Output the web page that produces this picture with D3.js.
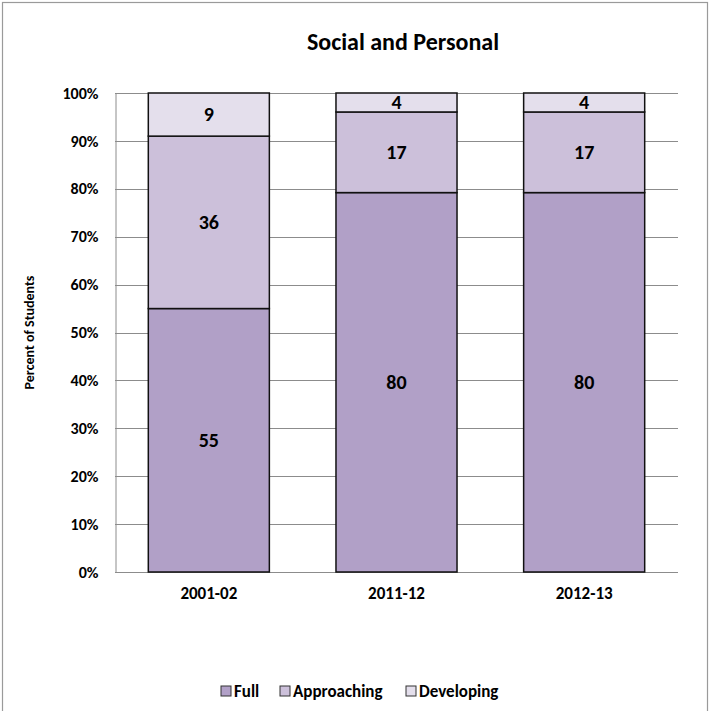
<!DOCTYPE html>
<html>
<head>
<meta charset="utf-8">
<script src="https://cdn.jsdelivr.net/npm/d3@7"></script>
<style>
  body { margin: 0; background: #fff; }
  svg text { font-family: Carlito, Lato, "Open Sans", sans-serif; font-weight: bold; }
</style>
</head>
<body>
<div id="chart"></div>
<script>
"use strict";

// chart data
const years = ["2001-02", "2011-12", "2012-13"];
const levels = ["Full", "Approaching", "Developing"];
const full = [55, 80, 80];
const approaching = [36, 17, 17];
const developing = [9, 4, 4];
const yTicks = [0, 0.1, 0.2, 0.3, 0.4, 0.5, 0.6, 0.7, 0.8, 0.9, 1.0];
const levelColors = ["#b1a0c7", "#ccc0da", "#e4dfec"];

const width = 709, height = 711;
const margin = { top: 93, right: 31, bottom: 139, left: 115 };

const svg = d3.select("#chart").append("svg")
    .attr("width", width)
    .attr("height", height);

// outer frame of the chart area (bottom edge falls off the page)
svg.append("rect")
    .attr("x", 2.5).attr("y", 2.5)
    .attr("width", 705).attr("height", 720)
    .attr("fill", "none")
    .attr("stroke", "#9a9a9a")
    .attr("stroke-width", 1.2);

// build rows for the stack
const rows = years.map((y, i) => ({
    year: y, Full: full[i], Approaching: approaching[i], Developing: developing[i]
}));

const series = d3.stack()
    .keys(levels)
    .offset(d3.stackOffsetExpand)(rows);

const x = d3.scaleBand()
    .domain(years)
    .range([margin.left, width - margin.right])
    .paddingInner(0.355)
    .paddingOuter(0.1775);

const y = d3.scaleLinear()
    .domain([0, 1])
    .range([height - margin.bottom, margin.top]);

// gridlines
svg.append("g")
    .selectAll("line")
    .data(yTicks)
    .join("line")
    .attr("x1", margin.left)
    .attr("x2", width - margin.right)
    .attr("y1", d => Math.round(y(d)) + 0.5)
    .attr("y2", d => Math.round(y(d)) + 0.5)
    .attr("stroke", "#8c8c8c")
    .attr("stroke-width", 1);

// y axis
const yAxis = svg.append("g")
    .attr("transform", `translate(${margin.left + 0.5},0)`)
    .call(d3.axisLeft(y).tickValues(yTicks).tickFormat(d3.format(".0%")).tickSize(0).tickPadding(17));
yAxis.select(".domain").attr("stroke", "#8c8c8c");
yAxis.selectAll("text")
    .attr("font-size", 16)
    .attr("fill", "#000")
    .style("font-family", "Carlito, Lato, sans-serif");

// x axis labels
const xAxis = svg.append("g")
    .attr("transform", `translate(0,${height - margin.bottom})`)
    .call(d3.axisBottom(x).tickSize(0).tickPadding(15));
xAxis.select(".domain").remove();
xAxis.selectAll("text")
    .attr("font-size", 17)
    .attr("fill", "#000")
    .style("font-family", "Carlito, Lato, sans-serif");

// bar segments
const layer = svg.append("g")
    .selectAll("g")
    .data(series)
    .join("g")
    .attr("fill", (d, i) => levelColors[i]);

layer.selectAll("rect")
    .data(d => d.map(v => ({ v, key: d.key })))
    .join("rect")
    .attr("x", d => x(d.v.data.year))
    .attr("width", x.bandwidth())
    .attr("y", d => y(d.v[1]))
    .attr("height", d => y(d.v[0]) - y(d.v[1]))
    .attr("stroke", "#111")
    .attr("stroke-width", 1.5);

// value labels
layer.selectAll("text")
    .data(d => d.map(v => ({ v, key: d.key })))
    .join("text")
    .attr("x", d => x(d.v.data.year) + x.bandwidth() / 2)
    .attr("y", d => (y(d.v[0]) + y(d.v[1])) / 2)
    .attr("dy", "0.34em")
    .attr("text-anchor", "middle")
    .attr("font-size", 20)
    .attr("fill", "#000")
    .text(d => d.v.data[d.key]);

// title
svg.append("text")
    .attr("x", 403)
    .attr("y", 50)
    .attr("text-anchor", "middle")
    .attr("font-size", 24)
    .text("Social and Personal");

// y axis title
svg.append("text")
    .attr("transform", `translate(34,${(margin.top + height - margin.bottom) / 2}) rotate(-90)`)
    .attr("text-anchor", "middle")
    .attr("font-size", 14)
    .text("Percent of Students");

// legend
const legendX = [221, 280, 406];
const legend = svg.append("g")
    .selectAll("g")
    .data(levels)
    .join("g")
    .attr("transform", (d, i) => `translate(${legendX[i]},686)`);

legend.append("rect")
    .attr("width", 10).attr("height", 10)
    .attr("fill", (d, i) => levelColors[i])
    .attr("stroke", "#333")
    .attr("stroke-width", 1);

legend.append("text")
    .attr("x", 13)
    .attr("y", 11)
    .attr("font-size", 17)
    .text(d => d);
</script>
</body>
</html>
